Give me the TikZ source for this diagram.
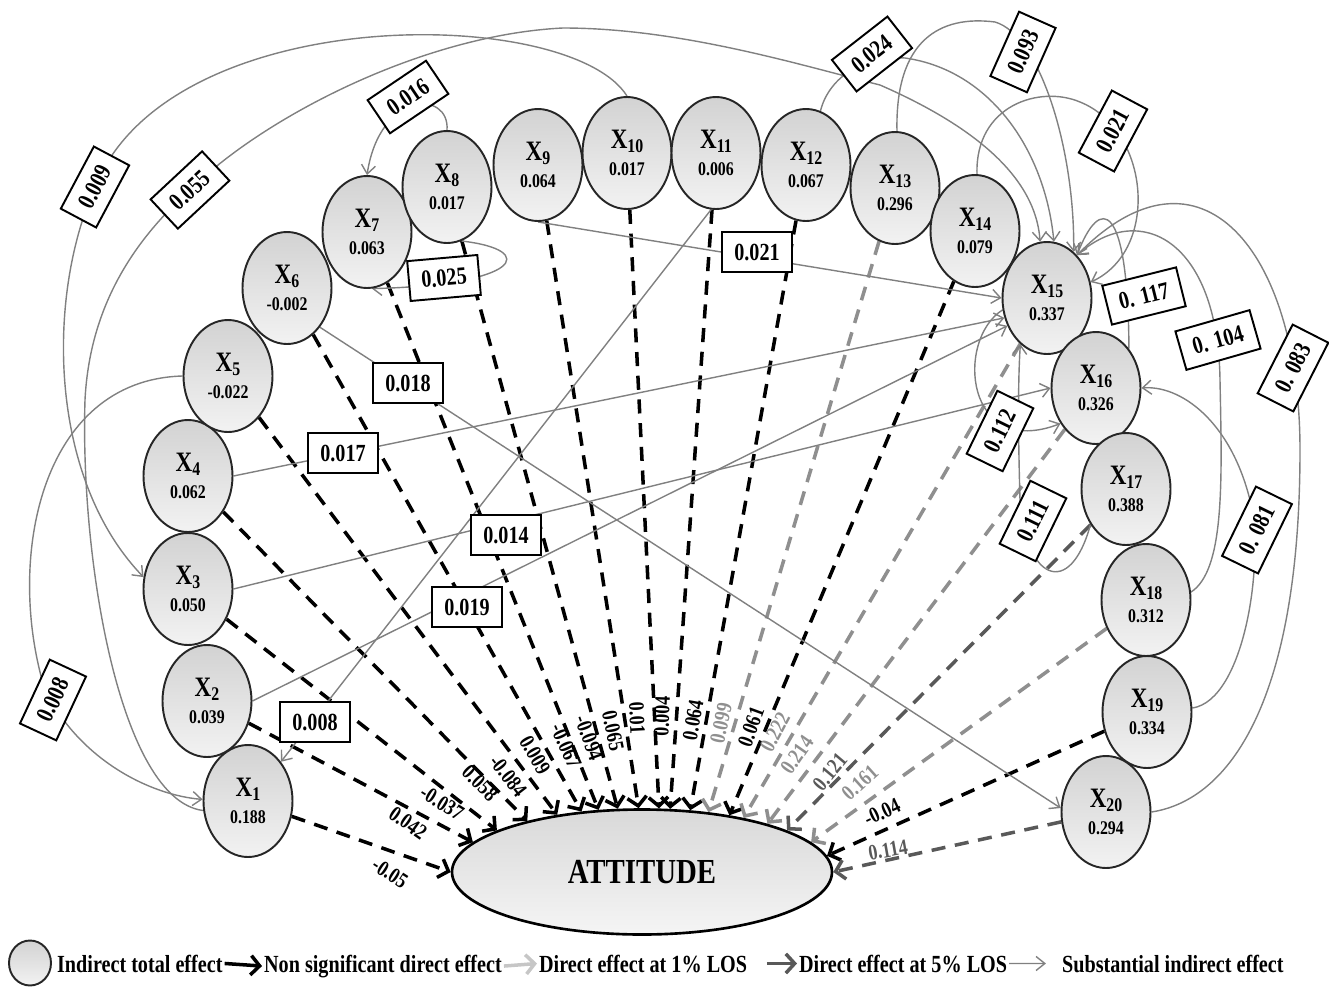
\documentclass[tikz,border=0pt]{standalone}
\usepackage{fontspec}
\setmainfont{Liberation Serif}[FakeStretch=0.82]
\usepackage{xcolor}
\usepackage{tikz}
\usetikzlibrary{shapes.geometric,arrows.meta}
\definecolor{indgray}{gray}{0.5}
\definecolor{onepct}{gray}{0.56}
\definecolor{fivepct}{gray}{0.35}
\pgfdeclarelayer{bg}
\pgfsetlayers{bg,main}
\newcommand{\xvar}[2]{{\fontsize{16}{16}\selectfont X}\raisebox{-0.45ex}{#1}\\#2}

\begin{document}
\begin{tikzpicture}[x=0.2mm,y=-0.2mm,
    xnode/.style={ellipse,draw=black!85,line width=1.1pt,top color=gray!35,bottom color=gray!10,
      minimum width=17.8mm,minimum height=22.4mm,inner sep=0pt,align=center,
      font=\fontsize{11}{15}\selectfont\bfseries},
    attnode/.style={ellipse,draw=black,line width=1.5pt,top color=gray!30,bottom color=gray!8,
      minimum width=76mm,minimum height=25mm,inner sep=0pt,font=\fontsize{20}{20}\selectfont\bfseries},
    lbl/.style={draw=black,fill=white,line width=1.1pt,minimum width=14mm,minimum height=8mm,
      inner xsep=2.5mm,font=\fontsize{14}{14}\selectfont\bfseries},
    dlbl/.style={inner sep=0pt,font=\fontsize{12.5}{12.5}\selectfont\bfseries},
    lgd/.style={inner sep=1pt,anchor=base west,font=\fontsize{14}{14}\selectfont\bfseries},
    dfx/.style={line width=2pt,dash pattern=on 8pt off 5.5pt,-{Straight Barb[length=5pt,width=11pt]}},
    nsd/.style={dfx,draw=black},
    lone/.style={dfx,draw=onepct},
    lfive/.style={dfx,draw=fivepct},
    ind/.style={draw=indgray,line width=0.8pt,-{Straight Barb[length=5pt,width=8pt]}}]
  \useasboundingbox (0,0) rectangle (1329,987);

  \node[xnode] (X1) at (248,801) {\xvar{1}{0.188}};
  \node[xnode] (X2) at (207,701) {\xvar{2}{0.039}};
  \node[xnode] (X3) at (188,589) {\xvar{3}{0.050}};
  \node[xnode] (X4) at (188,476) {\xvar{4}{0.062}};
  \node[xnode] (X5) at (228,376) {\xvar{5}{-0.022}};
  \node[xnode] (X6) at (287,288) {\xvar{6}{-0.002}};
  \node[xnode] (X7) at (367,232) {\xvar{7}{0.063}};
  \node[xnode] (X8) at (447,187) {\xvar{8}{0.017}};
  \node[xnode] (X9) at (538,165) {\xvar{9}{0.064}};
  \node[xnode] (X10) at (627,153) {\xvar{10}{0.017}};
  \node[xnode] (X11) at (716,153) {\xvar{11}{0.006}};
  \node[xnode] (X12) at (806,165) {\xvar{12}{0.067}};
  \node[xnode] (X13) at (895,188) {\xvar{13}{0.296}};
  \node[xnode] (X14) at (975,231) {\xvar{14}{0.079}};
  \node[xnode] (X15) at (1047,298) {\xvar{15}{0.337}};
  \node[xnode] (X16) at (1096,388) {\xvar{16}{0.326}};
  \node[xnode] (X17) at (1126,489) {\xvar{17}{0.388}};
  \node[xnode] (X18) at (1146,600) {\xvar{18}{0.312}};
  \node[xnode] (X19) at (1147,712) {\xvar{19}{0.334}};
  \node[xnode] (X20) at (1106,812) {\xvar{20}{0.294}};
  \node[attnode] (att) at (642,872) {ATTITUDE};

  % boxed values of the indirect effects
  \node[lbl,rotate=62] (b009) at (95,187) {0.009};
  \node[lbl,rotate=43] (b055) at (190,190) {0.055};
  \node[lbl,rotate=34] (b016) at (408,97) {0.016};
  \node[lbl,rotate=38] (b024) at (872,54) {0.024};
  \node[lbl,rotate=66] (b093) at (1023,52) {0.093};
  \node[lbl,rotate=62] (b021r) at (1113,131) {0.021};
  \node[lbl] (b021h) at (757,252) {0.021};
  \node[lbl,rotate=5] (b025) at (444,278) {0.025};
  \node[lbl] (b018) at (408,383) {0.018};
  \node[lbl] (b017) at (343,453) {0.017};
  \node[lbl] (b014) at (506,535) {0.014};
  \node[lbl] (b019) at (467,607) {0.019};
  \node[lbl] (b008a) at (315,722) {0.008};
  \node[lbl,rotate=65] (b008b) at (53,700) {0.008};
  \node[lbl,rotate=14] (b117) at (1144,296) {0. 117};
  \node[lbl,rotate=16] (b104) at (1218,340) {0. 104};
  \node[lbl,rotate=63] (b083) at (1293,368) {0. 083};
  \node[lbl,rotate=64] (b081) at (1257,530) {0. 081};
  \node[lbl,rotate=64] (b112) at (1000,431) {0.112};
  \node[lbl,rotate=64] (b111) at (1033,521) {0.111};

  % direct effects
  \node[dlbl,rotate=-33] (d1) at (390,873) {-0.05};
  \node[dlbl,rotate=-35] (d2) at (408,823) {0.042};
  \node[dlbl,rotate=-32] (d3) at (442,803) {-0.037};
  \node[dlbl,rotate=-45] (d4) at (480,783) {0.058};
  \node[dlbl,rotate=-52] (d5) at (508,776) {-0.084};
  \node[dlbl,rotate=-60] (d6) at (535,755) {0.009};
  \node[dlbl,rotate=-66] (d7) at (566,746) {-0.067};
  \node[dlbl,rotate=-70] (d8) at (589,738) {-0.094};
  \node[dlbl,rotate=-78] (d9) at (613,731) {0.065};
  \node[dlbl,rotate=-87] (d10) at (637,718) {0.01};
  \node[dlbl,rotate=88] (d11) at (662,716) {0.004};
  \node[dlbl,rotate=80] (d12) at (693,720) {0.064};
  \node[dlbl,rotate=78,text=onepct] (d13) at (721,723) {0.099};
  \node[dlbl,rotate=70] (d14) at (751,727) {0.061};
  \node[dlbl,rotate=62,text=onepct] (d15) at (775,732) {0.222};
  \node[dlbl,rotate=55,text=onepct] (d16) at (797,755) {0.214};
  \node[dlbl,rotate=50,text=fivepct] (d17) at (830,772) {0.121};
  \node[dlbl,rotate=42,text=onepct] (d18) at (860,783) {0.161};
  \node[dlbl,rotate=25] (d19) at (882,812) {-0.04};
  \node[dlbl,rotate=10,text=fivepct] (d20) at (888,850) {0.114};

  % legend
  \node[xnode,minimum width=8.4mm,minimum height=9mm] (lgc) at (30,963) {};
  \node[lgd] (lg1) at (55,972) {Indirect total effect};
  \node[lgd] (lg2) at (262,972) {Non significant direct effect};
  \node[lgd] (lg3) at (537,972) {Direct effect at 1\% LOS};
  \node[lgd] (lg4) at (797,972) {Direct effect at 5\% LOS};
  \node[lgd] (lg5) at (1060,972) {Substantial indirect effect};

  \begin{pgfonlayer}{bg}
    \draw[nsd] (X1) -- (att.west);
    \draw[nsd] (X2) -- (att.170);
    \draw[nsd] (X3) -- (att.164);
    \draw[nsd] (X4) -- (att.156);
    \draw[nsd] (X5) -- (att.146);
    \draw[nsd] (X6) -- (att.135);
    \draw[nsd] (X7) -- (att.125);
    \draw[nsd] (X8) -- (att.111);
    \draw[nsd] (X9) -- (att.93);
    \draw[nsd] (X10) -- (att.75);
    \draw[nsd] (X11) -- (att.66);
    \draw[nsd] (X12) -- (att.52);
    \draw[lone] (X13) -- (att.42);
    \draw[nsd] (X14) -- (att.33);
    \draw[lone] (X15) -- (att.28);
    \draw[lone] (X16) -- (att.21);
    \draw[lfive] (X17) -- (att.16);
    \draw[lone] (X18) -- (att.10);
    \draw[nsd] (X19) -- (att.5);
    \draw[lfive] (X20) -- (att.east);

    % indirect effects
    \draw[ind] (X10.north) .. controls (570,5) and (170,0) .. (95,187)
      .. controls (45,300) and (50,480) .. (X3.165);
    \draw[ind] (X1.192) .. controls (120,800) and (80,560) .. (85,400)
      .. controls (90,300) and (140,235) .. (190,190)
      .. controls (260,120) and (420,35) .. (563,28)
      .. controls (680,28) and (800,65) .. (880,85)
      .. controls (960,120) and (1035,170) .. (X15.97);
    \draw[ind] (X12.75) .. controls (828,80) and (860,55) .. (905,58)
      .. controls (990,70) and (1045,150) .. (X15.83);
    \draw[ind] (X13.88) .. controls (895,40) and (940,15) .. (995,22)
      .. controls (1040,35) and (1075,150) .. (X15.60);
    \draw[ind] (X14.88) .. controls (975,105) and (1040,85) .. (1080,102)
      .. controls (1150,130) and (1160,250) .. (X15.20);
    \draw[ind] (X9.south) -- (X15.west);
    \draw[ind] (X8.-75) .. controls (540,250) and (520,285) .. (X7.-85);
    \draw[ind] (X8.north) .. controls (450,90) and (380,90) .. (X7.north);
    \draw[ind] (X6.-50) -- (X20.175);
    \draw[ind] (X4.east) -- (X15.205);
    \draw[ind] (X3.east) -- (X16.west);
    \draw[ind] (X2.east) -- (X15.215);
    \draw[ind] (X11.-95) -- (X1.50);
    \draw[ind] (X5.west) .. controls (40,380) and (5,560) .. (45,690)
      .. controls (80,760) and (150,795) .. (X1.178);
    \draw[ind] (X16.50) .. controls (1128,200) and (1100,195) .. (X15.55);
    \draw[ind] (X18.10) .. controls (1225,570) and (1222,480) .. (1220,380)
      .. controls (1218,240) and (1140,200) .. (X15.55);
    \draw[ind] (X20.east) .. controls (1230,800) and (1300,700) .. (1300,450)
      .. controls (1300,250) and (1200,130) .. (X15.55);
    \draw[ind] (X19.5) .. controls (1245,700) and (1265,560) .. (1250,500)
      .. controls (1230,420) and (1180,385) .. (X16.east);
    \draw[ind] (X15.195) .. controls (955,340) and (965,460) .. (X16.225);
    \draw[ind] (X17.225) .. controls (1070,600) and (1025,580) .. (1020,500)
      .. controls (1018,430) and (1018,380) .. (X15.240);

    % legend arrows
    \draw[line width=2pt,-{Straight Barb[length=5pt,width=11pt]}] (lg1.east) -- (lg2.west);
    \draw[line width=2pt,draw=gray!45,-{Straight Barb[length=5pt,width=11pt]}] (lg2.east) -- (lg3.west);
    \draw[line width=2pt,draw=fivepct,shorten <=10pt,-{Straight Barb[length=5pt,width=11pt]}] (lg3.east) -- (lg4.west);
    \draw[ind,shorten >=8pt] (lg4.east) -- (lg5.west);
  \end{pgfonlayer}
\end{tikzpicture}
\end{document}
